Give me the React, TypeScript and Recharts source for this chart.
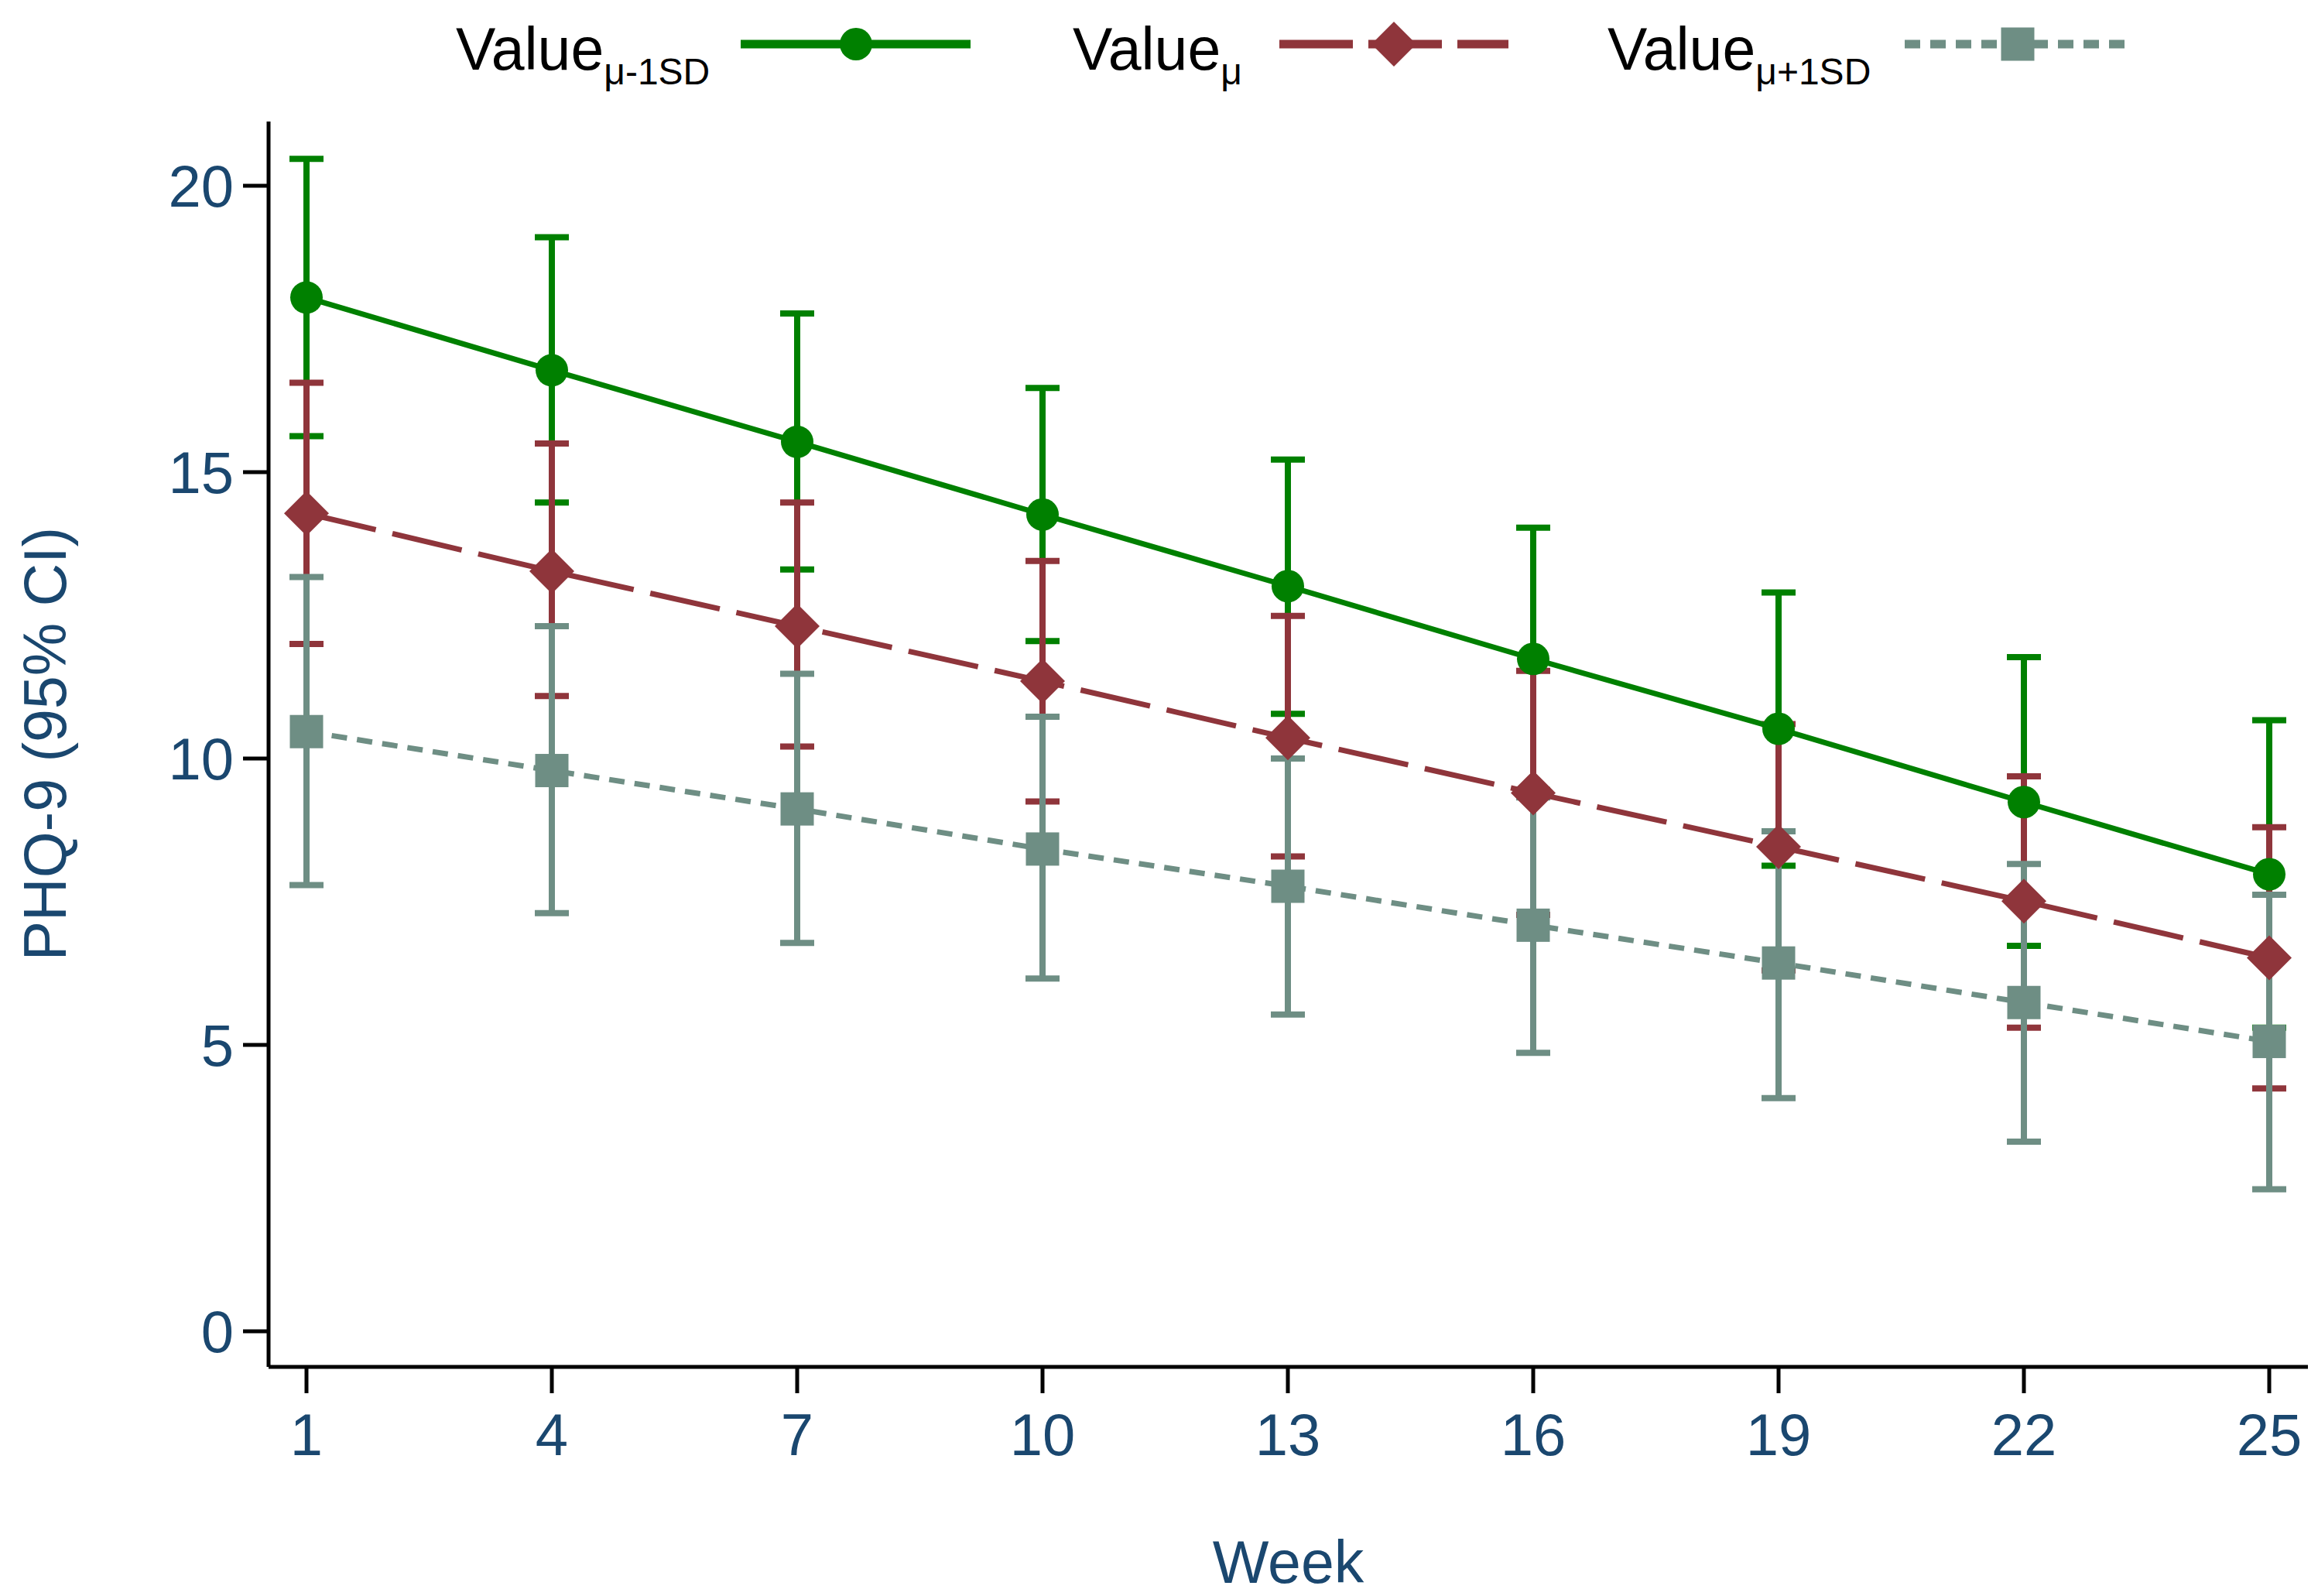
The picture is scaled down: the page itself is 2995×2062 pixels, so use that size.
import React from 'react';
import { LineChart, Line, XAxis, YAxis, ErrorBar } from 'recharts';

// weeks on the x axis
const weeks = [1, 4, 7, 10, 13, 16, 19, 22, 25];
const yTicks = [0, 5, 10, 15, 20];

// Value at mu - 1SD
const lowMean = [18.05, 16.78, 15.53, 14.26, 13.01, 11.74, 10.52, 9.24, 7.98];
const lowUpper = [20.47, 19.1, 17.77, 16.47, 15.22, 14.03, 12.9, 11.77, 10.67];
const lowLower = [15.63, 14.47, 13.3, 12.05, 10.78, 9.45, 8.13, 6.73, 5.3];

// Value at mu
const midMean = [14.28, 13.27, 12.31, 11.35, 10.36, 9.4, 8.46, 7.51, 6.52];
const midUpper = [16.56, 15.5, 14.47, 13.45, 12.49, 11.53, 10.6, 9.69, 8.8];
const midLower = [12.0, 11.09, 10.21, 9.25, 8.29, 7.27, 6.3, 5.3, 4.24];

// Value at mu + 1SD
const highMean = [10.47, 9.79, 9.12, 8.42, 7.77, 7.09, 6.43, 5.74, 5.06];
const highUpper = [13.17, 12.31, 11.48, 10.73, 10.0, 9.32, 8.73, 8.16, 7.62];
const highLower = [7.79, 7.3, 6.78, 6.16, 5.53, 4.86, 4.07, 3.31, 2.48];

const GREEN = '#008000';
const RED = '#8f353b';
const GRAY = '#6e8e84';
const BLUE = '#1a476f';
const FONT = '"Liberation Sans", Arial, Helvetica, sans-serif';

const data = weeks.map((week, i) => ({
  week,
  low: lowMean[i],
  lowErr: [lowMean[i] - lowLower[i], lowUpper[i] - lowMean[i]],
  mid: midMean[i],
  midErr: [midMean[i] - midLower[i], midUpper[i] - midMean[i]],
  high: highMean[i],
  highErr: [highMean[i] - highLower[i], highUpper[i] - highMean[i]],
}));

const diamondPath = (cx: number, cy: number, s: number) =>
  `M${cx},${cy - s}L${cx + s},${cy}L${cx},${cy + s}L${cx - s},${cy}Z`;

function CircleDot(props: any) {
  const { cx, cy, index } = props;
  if (cx == null || cy == null) return null;
  return <circle key={`c-${index}`} cx={cx} cy={cy} r={21} fill={GREEN} />;
}

function DiamondDot(props: any) {
  const { cx, cy, index } = props;
  if (cx == null || cy == null) return null;
  return <path key={`d-${index}`} d={diamondPath(cx, cy, 29)} fill={RED} />;
}

function SquareDot(props: any) {
  const { cx, cy, index } = props;
  if (cx == null || cy == null) return null;
  return <rect key={`s-${index}`} x={cx - 21.5} y={cy - 21.5} width={43} height={43} fill={GRAY} />;
}

function LegendItem({ x, sub, children }: { x: number; sub: string; children: React.ReactNode }) {
  return (
    <g>
      <text x={x} y={90} fontSize={77} fontFamily={FONT} fill="#000">
        Value
        <tspan fontSize={48} dy={19}>{sub}</tspan>
      </text>
      {children}
    </g>
  );
}

function TopLegend() {
  const y = 57;
  return (
    <svg width={2995} height={150} style={{ position: 'absolute', left: 0, top: 0, pointerEvents: 'none' }}>
      <LegendItem x={589} sub="μ-1SD">
        <line x1={957} x2={1254} y1={y} y2={y} stroke={GREEN} strokeWidth={11} />
        <circle cx={1106} cy={y} r={21} fill={GREEN} />
      </LegendItem>
      <LegendItem x={1386} sub="μ">
        <line x1={1653} x2={1949} y1={y} y2={y} stroke={RED} strokeWidth={11} strokeDasharray="95 20" />
        <path d={diamondPath(1801, y, 29)} fill={RED} />
      </LegendItem>
      <LegendItem x={2077} sub="μ+1SD">
        <line x1={2461} x2={2755} y1={y} y2={y} stroke={GRAY} strokeWidth={11} strokeDasharray="20 13" />
        <rect x={2607 - 21.5} y={y - 21.5} width={43} height={43} fill={GRAY} />
      </LegendItem>
    </svg>
  );
}

const yLabel = () => (
  <text
    x={58}
    y={961}
    transform="rotate(-90 58 961)"
    textAnchor="middle"
    dominantBaseline="central"
    fontSize={77}
    fontFamily={FONT}
    fill={BLUE}
  >
    PHQ-9 (95% CI)
  </text>
);

export default function App() {
  const tick = { fill: BLUE, fontSize: 76, fontFamily: FONT };
  return (
    <div style={{ position: 'absolute', left: 0, top: 0, width: 2995, height: 2062, background: '#fff' }}>
      <LineChart width={2995} height={2062} data={data} margin={{ top: 157, right: 13, bottom: 0, left: 0 }}>
        <XAxis
          dataKey="week"
          type="number"
          domain={[1, 25]}
          ticks={weeks}
          interval={0}
          padding={{ left: 49, right: 50 }}
          height={296}
          tickSize={34}
          tickMargin={26}
          tick={tick}
          axisLine={{ stroke: '#000', strokeWidth: 5 }}
          tickLine={{ stroke: '#000', strokeWidth: 5 }}
          label={{ value: 'Week', position: 'insideBottom', offset: 17, fill: BLUE, fontSize: 77, fontFamily: FONT }}
        />
        <YAxis
          type="number"
          domain={[0, 20]}
          allowDataOverflow
          ticks={yTicks}
          padding={{ top: 83, bottom: 46 }}
          width={347}
          tickSize={33}
          tickMargin={12}
          tick={tick}
          axisLine={{ stroke: '#000', strokeWidth: 5 }}
          tickLine={{ stroke: '#000', strokeWidth: 5 }}
          label={{ content: yLabel }}
        />
        {/* confidence intervals first so lines and markers sit on top */}
        <Line dataKey="low" stroke="none" dot={false} activeDot={false} legendType="none" isAnimationActive={false}>
          <ErrorBar dataKey="lowErr" stroke={GREEN} strokeWidth={8} width={22} isAnimationActive={false} />
        </Line>
        <Line dataKey="mid" stroke="none" dot={false} activeDot={false} legendType="none" isAnimationActive={false}>
          <ErrorBar dataKey="midErr" stroke={RED} strokeWidth={8} width={22} isAnimationActive={false} />
        </Line>
        <Line dataKey="high" stroke="none" dot={false} activeDot={false} legendType="none" isAnimationActive={false}>
          <ErrorBar dataKey="highErr" stroke={GRAY} strokeWidth={8} width={22} isAnimationActive={false} />
        </Line>
        <Line dataKey="low" type="linear" stroke={GREEN} strokeWidth={7} dot={CircleDot} activeDot={false} isAnimationActive={false} />
        <Line dataKey="mid" type="linear" stroke={RED} strokeWidth={7} strokeDasharray="92 22" dot={DiamondDot} activeDot={false} isAnimationActive={false} />
        <Line dataKey="high" type="linear" stroke={GRAY} strokeWidth={7} strokeDasharray="20 13" dot={SquareDot} activeDot={false} isAnimationActive={false} />
      </LineChart>
      <TopLegend />
    </div>
  );
}
